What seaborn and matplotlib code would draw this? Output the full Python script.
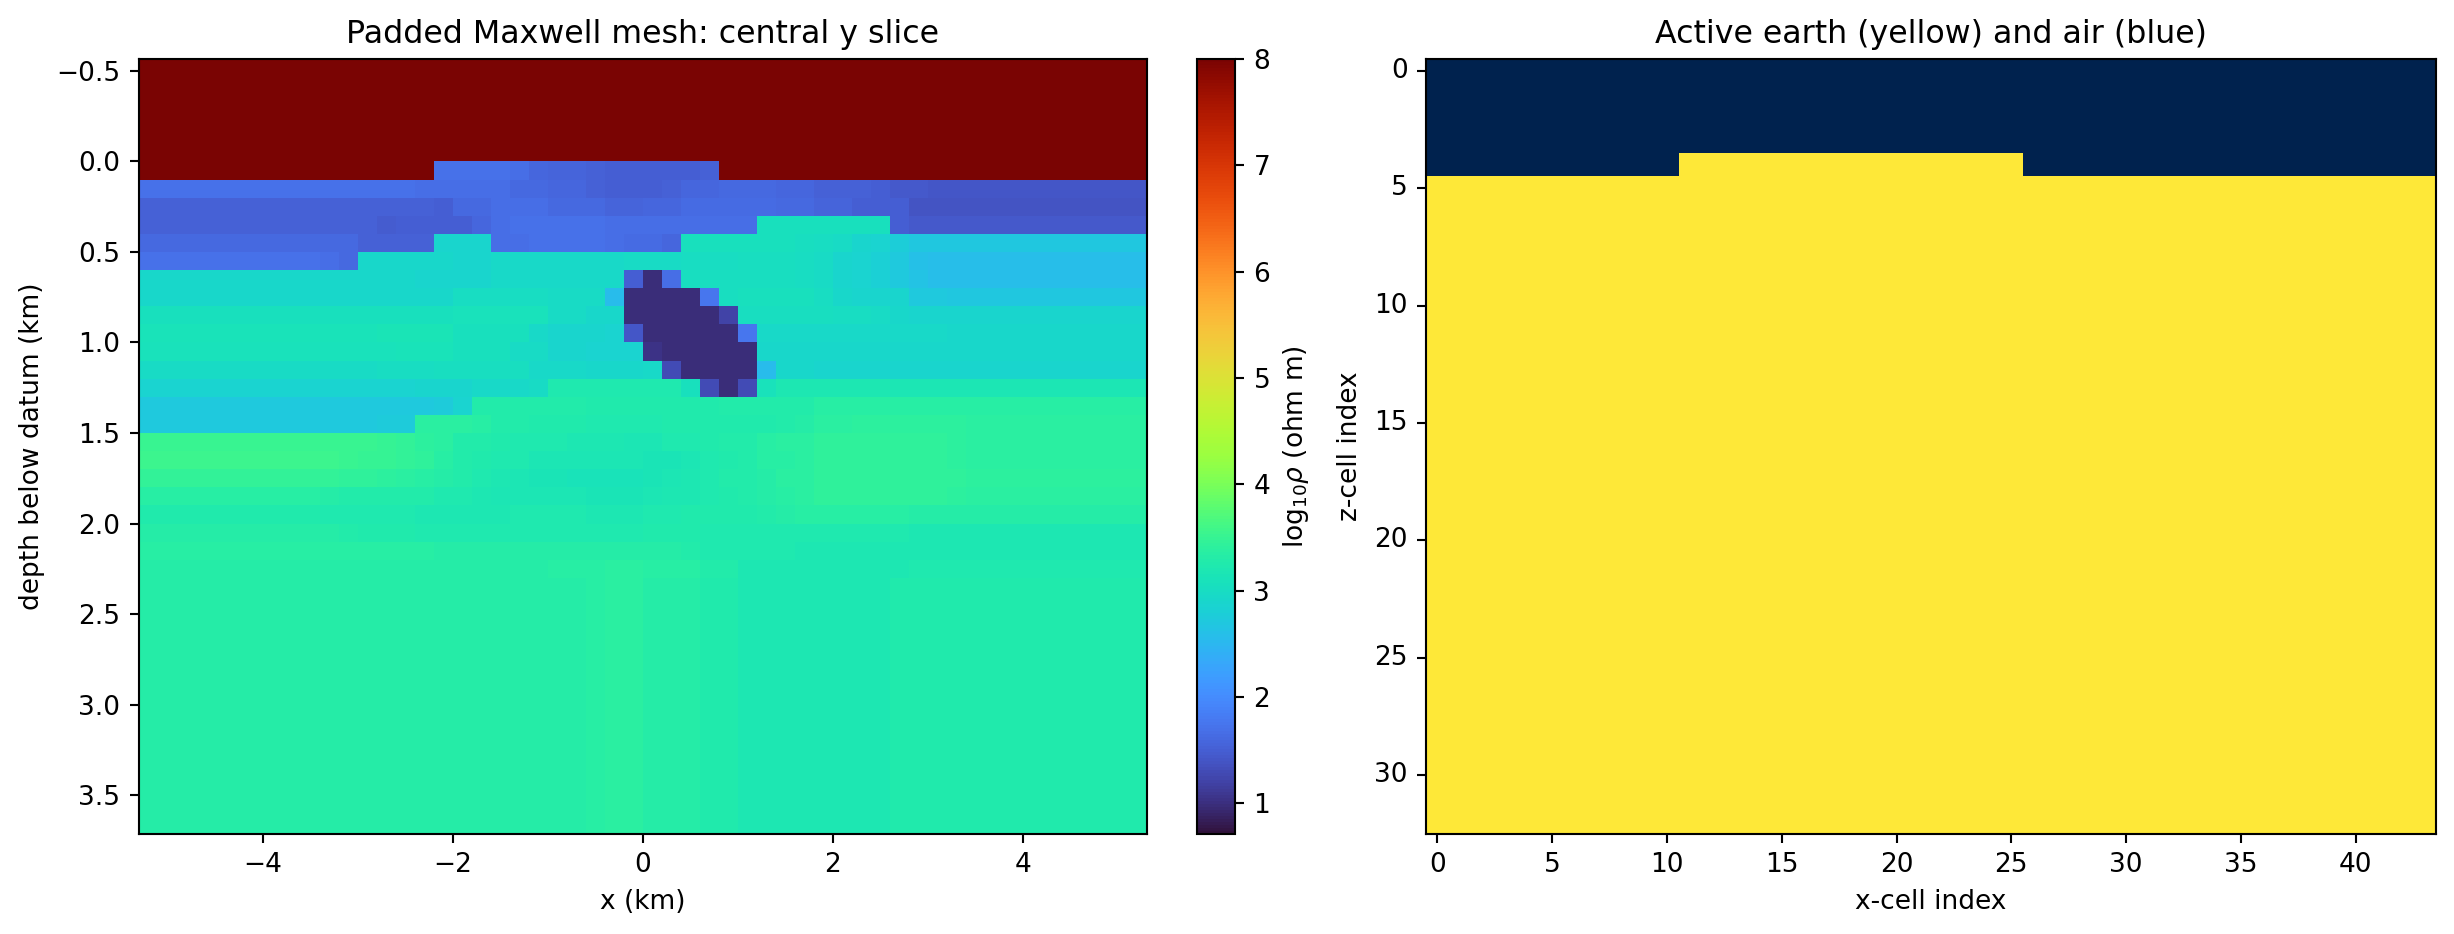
import numpy as np
import matplotlib
matplotlib.use("Agg")
import matplotlib.pyplot as plt
import seaborn as sns

x_edges_km = [-5.31, -5.06, -4.76, -4.40, -3.95, -3.4, -3.2, -3.0, -2.8, -2.6, -2.4,
              -2.2, -2.0, -1.8, -1.6, -1.4, -1.2, -1.0, -0.8, -0.6, -0.4, -0.2, 0.0,
              0.2, 0.4, 0.6, 0.8, 1.0, 1.2, 1.4, 1.6, 1.8, 2.0, 2.2, 2.4, 2.6, 2.8,
              3.0, 3.2, 3.4, 3.95, 4.40, 4.76, 5.06, 5.31]
z_edges_km = [-0.57, -0.42, -0.28, -0.14, 0.0, 0.1, 0.2, 0.3, 0.4, 0.5, 0.6, 0.7, 0.8,
              0.9, 1.0, 1.1, 1.2, 1.3, 1.4, 1.5, 1.6, 1.7, 1.8, 1.9, 2.0, 2.1, 2.2,
              2.3, 2.4, 2.54, 2.72, 2.96, 3.28, 3.72]

air = [8.0] * 44
row_04 = [8.0,8.0,8.0,8.0,8.0,8.0,8.0,8.0,8.0,8.0,8.0,1.7,1.7,1.7,1.68,1.65,1.57,1.55,1.54,1.52,1.48,1.48,1.48,1.5,1.5,1.53,8.0,8.0,8.0,8.0,8.0,8.0,8.0,8.0,8.0,8.0,8.0,8.0,8.0,8.0,8.0,8.0,8.0,8.0]
row_05 = [1.7,1.7,1.7,1.7,1.7,1.7,1.7,1.68,1.68,1.68,1.65,1.65,1.65,1.65,1.65,1.62,1.62,1.57,1.57,1.52,1.48,1.48,1.48,1.52,1.57,1.57,1.6,1.6,1.6,1.58,1.58,1.53,1.53,1.53,1.48,1.43,1.43,1.4,1.4,1.4,1.4,1.4,1.4,1.4]
row_06 = [1.52,1.52,1.52,1.52,1.52,1.52,1.52,1.52,1.52,1.52,1.52,1.5,1.6,1.6,1.65,1.65,1.65,1.62,1.6,1.6,1.55,1.55,1.58,1.58,1.63,1.63,1.63,1.63,1.63,1.6,1.6,1.55,1.55,1.5,1.5,1.48,1.38,1.38,1.38,1.38,1.38,1.38,1.38,1.38]
row_07 = [1.52,1.52,1.52,1.52,1.52,1.52,1.52,1.52,1.47,1.5,1.5,1.5,1.5,1.58,1.65,1.68,1.68,1.7,1.7,1.7,1.65,1.65,1.65,1.67,1.67,1.67,1.67,1.67,3.05,3.05,3.05,3.05,3.05,3.05,3.05,1.48,1.45,1.43,1.43,1.43,1.43,1.43,1.43,1.43]
row_08 = [1.6,1.6,1.6,1.6,1.6,1.6,1.6,1.53,1.53,1.53,1.53,2.88,2.88,2.88,1.65,1.65,1.7,1.7,1.7,1.7,1.67,1.63,1.63,1.58,3.05,3.05,3.05,3.05,3.05,3.05,3.03,3.0,2.97,2.9,2.85,2.78,2.7,2.68,2.68,2.68,2.68,2.68,2.68,2.68]
row_09 = [1.7,1.7,1.7,1.7,1.7,1.65,1.6,2.92,2.92,2.92,2.92,2.92,2.88,2.88,2.95,2.95,2.95,2.95,2.95,2.95,2.95,2.97,2.97,2.97,3.0,3.0,3.0,3.03,3.03,3.03,3.0,2.97,2.88,2.85,2.8,2.72,2.6,2.58,2.58,2.58,2.58,2.58,2.58,2.58]
row_10 = [2.92,2.92,2.92,2.92,2.92,2.92,2.92,2.92,2.92,2.92,2.88,2.88,2.88,2.88,2.95,2.95,2.95,2.95,2.95,2.95,2.95,1.48,0.97,1.65,3.03,3.03,3.03,3.03,3.03,3.03,3.0,2.97,2.88,2.85,2.8,2.72,2.62,2.58,2.58,2.58,2.58,2.58,2.58,2.58]
row_11 = [2.92,2.92,2.92,2.92,2.92,2.92,2.92,2.92,2.92,2.92,2.92,2.92,3.0,3.0,3.0,3.0,3.0,2.97,2.97,2.97,2.56,0.97,0.97,0.97,0.97,1.75,3.03,3.05,3.05,3.05,3.05,3.0,2.92,2.9,2.88,2.88,2.72,2.72,2.7,2.7,2.7,2.7,2.7,2.7]
row_12 = [3.07,3.07,3.07,3.07,3.07,3.07,3.07,3.07,3.07,3.07,3.07,3.07,3.08,3.08,3.08,3.08,3.08,2.97,2.97,2.92,2.92,0.97,0.97,0.97,0.97,0.97,1.2,3.03,3.03,3.03,3.03,3.03,3.0,3.0,2.97,2.92,2.9,2.88,2.88,2.88,2.88,2.88,2.88,2.88]
row_13 = [3.12,3.12,3.12,3.12,3.12,3.12,3.12,3.12,3.15,3.15,3.15,3.15,3.07,3.07,3.07,3.07,2.95,2.88,2.88,2.88,2.85,1.42,0.97,0.97,0.97,0.97,0.97,1.75,2.95,2.95,2.95,2.95,2.95,2.95,2.95,2.95,2.95,2.95,2.92,2.92,2.92,2.92,2.92,2.92]
row_14 = [3.1,3.1,3.1,3.1,3.1,3.1,3.1,3.1,3.1,3.12,3.12,3.12,3.05,3.05,3.05,2.97,2.97,2.9,2.9,2.85,2.85,2.85,1.05,0.97,0.97,0.97,0.97,0.97,2.92,2.92,2.92,2.92,2.92,2.92,2.92,2.92,2.92,2.92,2.92,2.92,2.92,2.92,2.92,2.92]
row_15 = [2.98,2.98,2.98,2.98,2.98,2.98,2.98,2.98,3.0,3.0,3.0,3.03,3.03,3.03,3.03,3.03,2.95,2.95,2.95,2.92,2.92,2.92,2.95,1.3,0.97,0.97,0.97,0.97,2.56,2.92,2.92,2.88,2.88,2.88,2.88,2.88,2.88,2.88,2.88,2.88,2.88,2.88,2.88,2.88]
row_16 = [2.85,2.85,2.85,2.85,2.85,2.85,2.85,2.85,2.85,2.85,2.88,2.88,2.88,2.95,2.95,2.95,2.97,3.22,3.22,3.22,3.22,3.22,3.22,3.22,3.05,1.3,0.97,1.3,3.1,3.2,3.2,3.2,3.2,3.2,3.2,3.18,3.18,3.18,3.18,3.18,3.18,3.18,3.18,3.18]
row_17 = [2.72,2.72,2.72,2.72,2.72,2.72,2.72,2.72,2.72,2.72,2.72,2.76,2.85,3.28,3.28,3.28,3.28,3.28,3.28,3.25,3.25,3.25,3.25,3.25,3.25,3.25,3.3,3.3,3.3,3.3,3.3,3.35,3.35,3.35,3.35,3.35,3.35,3.35,3.35,3.35,3.35,3.35,3.35,3.35]
row_18 = [2.72,2.72,2.72,2.72,2.72,2.72,2.72,2.72,2.75,2.75,3.38,3.38,3.36,3.34,3.3,3.3,3.27,3.27,3.27,3.23,3.23,3.23,3.23,3.25,3.25,3.25,3.25,3.27,3.27,3.3,3.32,3.36,3.38,3.4,3.4,3.4,3.4,3.4,3.4,3.38,3.38,3.38,3.38,3.38]
row_19 = [3.52,3.52,3.52,3.52,3.52,3.52,3.52,3.52,3.5,3.45,3.4,3.37,3.3,3.28,3.25,3.23,3.23,3.22,3.2,3.2,3.2,3.18,3.18,3.22,3.24,3.26,3.28,3.3,3.33,3.36,3.38,3.42,3.42,3.42,3.42,3.42,3.42,3.42,3.4,3.38,3.38,3.38,3.38,3.38]
row_20 = [3.55,3.55,3.55,3.55,3.55,3.53,3.52,3.5,3.48,3.45,3.42,3.35,3.3,3.26,3.24,3.22,3.18,3.17,3.17,3.16,3.16,3.16,3.15,3.15,3.17,3.22,3.26,3.3,3.33,3.35,3.38,3.43,3.44,3.44,3.44,3.44,3.44,3.43,3.41,3.38,3.38,3.38,3.38,3.38]
row_21 = [3.47,3.47,3.47,3.47,3.47,3.47,3.44,3.42,3.4,3.38,3.35,3.32,3.28,3.22,3.2,3.18,3.15,3.15,3.12,3.12,3.12,3.12,3.14,3.18,3.2,3.22,3.28,3.3,3.32,3.36,3.38,3.44,3.44,3.44,3.44,3.44,3.44,3.44,3.42,3.4,3.4,3.4,3.4,3.4]
row_22 = [3.33,3.33,3.33,3.33,3.33,3.32,3.3,3.3,3.3,3.3,3.28,3.24,3.22,3.2,3.17,3.16,3.16,3.16,3.16,3.14,3.14,3.14,3.18,3.2,3.2,3.22,3.27,3.3,3.32,3.35,3.37,3.42,3.42,3.42,3.42,3.42,3.42,3.42,3.4,3.38,3.38,3.38,3.38,3.38]
row_23 = [3.27,3.27,3.27,3.27,3.27,3.24,3.24,3.24,3.24,3.24,3.2,3.2,3.2,3.2,3.2,3.22,3.22,3.22,3.22,3.2,3.2,3.2,3.23,3.24,3.25,3.25,3.27,3.27,3.3,3.32,3.34,3.35,3.35,3.35,3.35,3.34,3.32,3.32,3.32,3.32,3.32,3.32,3.32,3.32]
row_24 = [3.32,3.32,3.32,3.32,3.32,3.32,3.28,3.27,3.27,3.27,3.24,3.24,3.24,3.24,3.24,3.24,3.24,3.24,3.24,3.24,3.24,3.24,3.25,3.25,3.25,3.22,3.22,3.22,3.22,3.22,3.22,3.22,3.22,3.22,3.22,3.22,3.2,3.2,3.2,3.2,3.2,3.2,3.2,3.2]
row_25 = [3.33,3.33,3.33,3.33,3.33,3.33,3.33,3.33,3.33,3.33,3.33,3.32,3.32,3.32,3.32,3.32,3.32,3.32,3.32,3.32,3.32,3.32,3.32,3.32,3.3,3.22,3.22,3.22,3.22,3.22,3.2,3.2,3.2,3.2,3.2,3.2,3.2,3.19,3.19,3.19,3.19,3.19,3.19,3.19]
row_26 = [3.32,3.32,3.32,3.32,3.32,3.32,3.32,3.32,3.32,3.32,3.32,3.32,3.32,3.32,3.32,3.32,3.32,3.33,3.34,3.35,3.36,3.36,3.34,3.34,3.33,3.3,3.28,3.2,3.2,3.2,3.2,3.2,3.2,3.2,3.2,3.2,3.24,3.24,3.24,3.24,3.24,3.24,3.24,3.24]
deep = [3.32,3.32,3.32,3.32,3.32,3.32,3.32,3.32,3.32,3.32,3.32,3.32,3.32,3.32,3.32,3.32,3.32,3.32,3.32,3.33,3.37,3.37,3.32,3.32,3.32,3.27,3.27,3.2,3.2,3.2,3.2,3.2,3.2,3.2,3.2,3.25,3.25,3.25,3.25,3.25,3.25,3.25,3.25,3.25]

log_rho = np.array([air, air, air, air, row_04, row_05, row_06, row_07, row_08, row_09,
                    row_10, row_11, row_12, row_13, row_14, row_15, row_16, row_17,
                    row_18, row_19, row_20, row_21, row_22, row_23, row_24, row_25,
                    row_26, deep, deep, deep, deep, deep, deep])
active = (log_rho < 8.0).astype(int)

x_ticks_index = list(range(0, 44, 5))
z_ticks_index = list(range(0, 33, 5))

W, H = 2454, 934
DPI = 190
TOP, BOTTOM = 59, 834
fig = plt.figure(figsize=(W / DPI, H / DPI), dpi=DPI)
ax1 = fig.add_axes([138.5 / W, 1 - BOTTOM / H, 1008.5 / W, (BOTTOM - TOP) / H])
cax = fig.add_axes([1197 / W, 1 - BOTTOM / H, 38 / W, (BOTTOM - TOP) / H])
ax2 = fig.add_axes([1426 / W, 1 - BOTTOM / H, 1010 / W, (BOTTOM - TOP) / H])

mesh = ax1.pcolormesh(x_edges_km, z_edges_km, log_rho, cmap="turbo", vmin=0.71, vmax=8.0)
ax1.set_xlim(-5.31, 5.31)
ax1.set_ylim(3.715, -0.566)
ax1.set_xlabel("x (km)")
ax1.set_ylabel("depth below datum (km)")
ax1.set_title("Padded Maxwell mesh: central y slice")
cb = fig.colorbar(mesh, cax=cax)
cb.set_label(r"log$_{10}\rho$ (ohm m)")

sns.heatmap(active, ax=ax2, cmap="cividis", cbar=False, vmin=0, vmax=1)
for s in ax2.spines.values():
    s.set_visible(True)
ax2.set_xticks([v + 0.5 for v in x_ticks_index], [str(v) for v in x_ticks_index], rotation=0)
ax2.set_yticks([v + 0.5 for v in z_ticks_index], [str(v) for v in z_ticks_index], rotation=0)
ax2.set_xlabel("x-cell index")
ax2.set_ylabel("z-cell index")
ax2.set_title("Active earth (yellow) and air (blue)")

fig.savefig("out.png", dpi=DPI)
